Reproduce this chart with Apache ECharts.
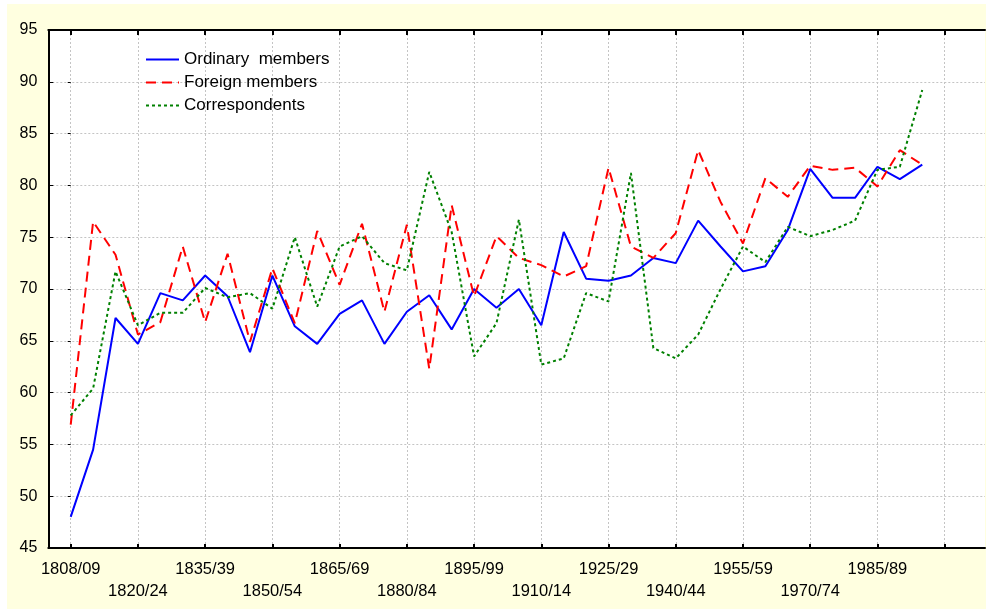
<!DOCTYPE html>
<html>
<head>
<meta charset="utf-8">
<script src="https://cdn.jsdelivr.net/npm/echarts@6/dist/echarts.min.js"></script>
<style>
html,body{margin:0;padding:0;background:#fff;width:986px;height:609px;overflow:hidden;}
#c{position:absolute;left:7px;top:4px;width:979px;height:605px;}
</style>
</head>
<body>
<div id="c"></div>
<script>
// Five-year periods (category index 0..38)
var periods = ['1808/09','1810/14','1815/19','1820/24','1825/29','1830/34','1835/39','1840/44','1845/49','1850/54',
  '1855/59','1860/64','1865/69','1870/74','1875/79','1880/84','1885/89','1890/94','1895/99','1900/04',
  '1905/09','1910/14','1915/19','1920/24','1925/29','1930/34','1935/39','1940/44','1945/49','1950/54',
  '1955/59','1960/64','1965/69','1970/74','1975/79','1980/84','1985/89','1990/94','1995/99'];
// Tick positions (indices) and the labels shown under the axis
var tickIndex = [0,3,6,9,12,15,18,21,24,27,30,33,36,39];
var tickLabels = ['1808/09','1820/24','1835/39','1850/54','1865/69','1880/84','1895/99','1910/14','1925/29','1940/44','1955/59','1970/74','1985/89',''];

var ordinary = [48.0,54.5,67.2,64.7,69.6,68.9,71.3,69.3,63.9,71.3,
  66.4,64.7,67.6,68.9,64.7,67.8,69.4,66.1,70.0,68.2,
  70.0,66.5,75.5,71.0,70.8,71.3,73.0,72.5,76.6,74.1,
  71.7,72.2,75.7,81.6,78.8,78.8,81.8,80.6,82.0];
var foreign = [56.9,76.5,73.3,65.6,66.8,74.1,66.8,73.4,64.9,72.0,
  66.7,75.6,70.4,76.3,67.8,76.2,62.3,78.1,69.3,75.1,
  73.0,72.3,71.2,72.2,81.7,74.1,73.0,75.4,83.4,78.4,
  74.4,80.7,78.9,81.9,81.5,81.7,79.9,83.4,82.0];
var correspondents = [57.8,60.4,71.7,66.5,67.7,67.7,70.1,69.2,69.6,68.1,
  75.0,68.3,74.1,75.1,72.5,71.8,81.3,75.5,63.5,66.7,
  76.7,62.7,63.3,69.6,68.8,81.2,64.3,63.3,65.6,70.0,
  74.1,72.6,76.0,75.1,75.7,76.6,81.5,81.8,89.2];

function pts(arr){ return arr.map(function(v,i){ return [i, v]; }); }

var FONT = '"Liberation Sans", Arial, sans-serif';
var chart = echarts.init(document.getElementById('c'), null, {renderer:'canvas'});
var gridLine = {show:true, lineStyle:{color:'#c4c4c4', width:1, type:[2,2]}};

chart.setOption({
  backgroundColor:'#FFFFE0',
  animation:false,
  grid:{left:41.3, top:26, right:1, bottom:61, show:true, backgroundColor:'#ffffff', borderWidth:0},
  legend:{
    orient:'vertical', left:133, top:42, itemWidth:33, itemHeight:14, itemGap:6,
    itemStyle:{color:'transparent', borderColor:'transparent', borderWidth:0, opacity:0},
    textStyle:{fontFamily:FONT, fontSize:17, color:'#000'},
    data:['Ordinary  members','Foreign members','Correspondents']
  },
  xAxis:[{
    type:'value', min:-1, max:40.8, position:'bottom',
    axisLine:{show:true, onZero:false, lineStyle:{color:'#000', width:2}},
    axisTick:{show:true, inside:true, length:4, customValues:tickIndex, lineStyle:{color:'#000', width:2}},
    axisLabel:{
      customValues:tickIndex, margin:10, fontFamily:FONT, fontSize:16.5, color:'#000', lineHeight:22,
      formatter:function(v){ var k = tickIndex.indexOf(Math.round(v)); var s = k>=0 ? tickLabels[k] : ''; return (k%2===1) ? '\n'+s : s; }
    },
    splitLine:gridLine
  },{
    type:'value', min:-1, max:40.8, position:'top',
    axisLine:{show:true, onZero:false, lineStyle:{color:'#000', width:2}},
    axisTick:{show:true, inside:true, length:5, customValues:tickIndex, lineStyle:{color:'#000', width:2}},
    axisLabel:{show:false},
    splitLine:{show:false}
  }],
  yAxis:[{
    type:'value', min:45, max:95, interval:5,
    axisLine:{show:true, onZero:false, lineStyle:{color:'#000', width:2}},
    axisTick:{show:true, inside:true, length:5, lineStyle:{color:'#000', width:1}},
    axisLabel:{margin:11, fontFamily:FONT, fontSize:16, color:'#000'},
    splitLine:gridLine
  },{
    type:'value', min:45, max:95, interval:5, position:'right',
    axisLine:{show:false},
    axisTick:{show:true, inside:true, length:3, lineStyle:{color:'#000', width:1}},
    axisLabel:{show:false},
    splitLine:{show:false}
  }],
  series:[
    {name:'Ordinary  members', type:'line', data:pts(ordinary), symbol:'none',
     lineStyle:{color:'#0000FF', width:2}, itemStyle:{color:'#0000FF'}},
    {name:'Foreign members', type:'line', data:pts(foreign), symbol:'none',
     lineStyle:{color:'#FF0000', width:2, type:[10,6]}, itemStyle:{color:'#FF0000'}},
    {name:'Correspondents', type:'line', data:pts(correspondents), symbol:'none',
     lineStyle:{color:'#008000', width:2, type:[3,3]}, itemStyle:{color:'#008000'}}
  ]
});
</script>
</body>
</html>
